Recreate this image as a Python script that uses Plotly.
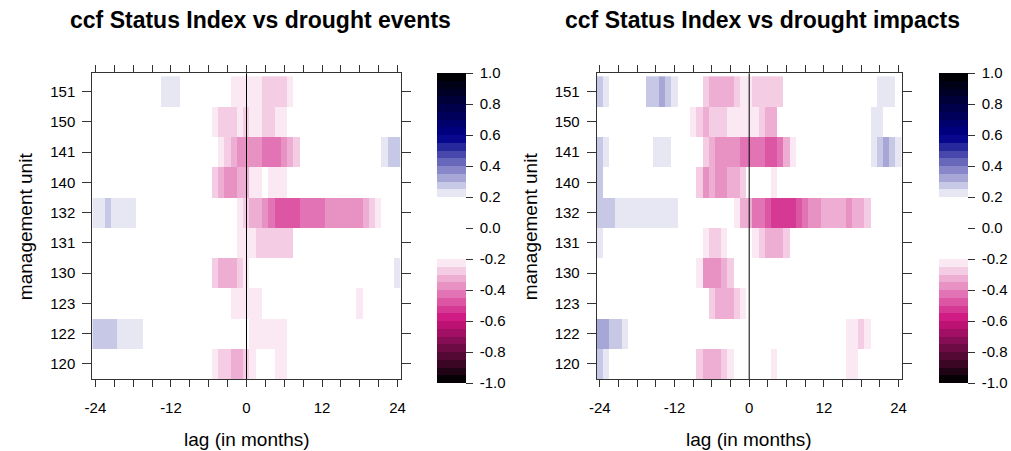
import plotly.graph_objects as go

# ---------------- data ----------------
lags = list(range(-24, 25))
units = ["120", "122", "123", "130", "131", "132", "140", "141", "150", "151"]
xtick_vals = list(range(-24, 25, 3))
xtick_text = ["-24", "", "", "", "-12", "", "", "", "0", "", "", "", "12", "", "", "", "24"]
cbar_ticks = [-1.0, -0.8, -0.6, -0.4, -0.2, 0.0, 0.2, 0.4, 0.6, 0.8, 1.0]
cbar_text = ["-1.0", "-0.8", "-0.6", "-0.4", "-0.2", "0.0", "0.2", "0.4", "0.6", "0.8", "1.0"]

# ccf values, drought events (lags -24..24)
ev_151 = [0, 0, 0, 0, 0, 0, 0, 0, 0, 0, 0, 0.22,
          0.22, 0.22, 0, 0, 0, 0, 0, 0, 0, 0, -0.22, -0.22,
          -0.22, -0.22, -0.22, -0.27, -0.27, -0.27, -0.27, -0.22, 0, 0, 0, 0,
          0, 0, 0, 0, 0, 0, 0, 0, 0, 0, 0, 0, 0]
ev_150 = [0, 0, 0, 0, 0, 0, 0, 0, 0, 0, 0, 0,
          0, 0, 0, 0, 0, 0, 0, -0.22, -0.27, -0.27, -0.27, -0.22,
          -0.27, -0.22, -0.22, -0.27, -0.27, -0.22, -0.22, 0, 0, 0, 0, 0,
          0, 0, 0, 0, 0, 0, 0, 0, 0, 0, 0, 0, 0]
ev_141 = [0, 0, 0, 0, 0, 0, 0, 0, 0, 0, 0, 0,
          0, 0, 0, 0, 0, 0, 0, 0, -0.22, -0.27, -0.32, -0.37,
          -0.37, -0.37, -0.37, -0.42, -0.42, -0.42, -0.37, -0.32, -0.27, 0, 0, 0,
          0, 0, 0, 0, 0, 0, 0, 0, 0, 0, 0.22, 0.27, 0.27]
ev_140 = [0, 0, 0, 0, 0, 0, 0, 0, 0, 0, 0, 0,
          0, 0, 0, 0, 0, 0, 0, -0.27, -0.32, -0.37, -0.37, -0.32,
          -0.32, -0.22, -0.22, 0, -0.22, -0.22, -0.22, 0, 0, 0, 0, 0,
          0, 0, 0, 0, 0, 0, 0, 0, 0, 0, 0, 0, 0]
ev_132 = [0.22, 0.22, 0.27, 0.22, 0.22, 0.22, 0.22, 0, 0, 0, 0, 0,
          0, 0, 0, 0, 0, 0, 0, 0, 0, 0, 0, -0.22,
          -0.27, -0.32, -0.32, -0.37, -0.42, -0.47, -0.47, -0.47, -0.47, -0.42, -0.42, -0.42,
          -0.42, -0.37, -0.37, -0.37, -0.37, -0.37, -0.37, -0.32, -0.27, -0.22, 0, 0, 0]
ev_131 = [0, 0, 0, 0, 0, 0, 0, 0, 0, 0, 0, 0,
          0, 0, 0, 0, 0, 0, 0, 0, 0, 0, 0, -0.22,
          -0.22, -0.22, -0.27, -0.27, -0.27, -0.27, -0.27, -0.27, 0, 0, 0, 0,
          0, 0, 0, 0, 0, 0, 0, 0, 0, 0, 0, 0, 0]
ev_130 = [0, 0, 0, 0, 0, 0, 0, 0, 0, 0, 0, 0,
          0, 0, 0, 0, 0, 0, 0, -0.27, -0.32, -0.32, -0.32, -0.27,
          -0.22, 0, 0, 0, 0, 0, 0, 0, 0, 0, 0, 0,
          0, 0, 0, 0, 0, 0, 0, 0, 0, 0, 0, 0, 0.22]
ev_123 = [0, 0, 0, 0, 0, 0, 0, 0, 0, 0, 0, 0,
          0, 0, 0, 0, 0, 0, 0, 0, 0, 0, -0.22, -0.22,
          -0.22, -0.22, -0.22, 0, 0, 0, 0, 0, 0, 0, 0, 0,
          0, 0, 0, 0, 0, 0, -0.22, 0, 0, 0, 0, 0, 0]
ev_122 = [0.27, 0.27, 0.27, 0.27, 0.22, 0.22, 0.22, 0.22, 0, 0, 0, 0,
          0, 0, 0, 0, 0, 0, 0, 0, 0, 0, 0, 0,
          0, -0.22, -0.22, -0.22, -0.22, -0.22, -0.22, 0, 0, 0, 0, 0,
          0, 0, 0, 0, 0, 0, 0, 0, 0, 0, 0, 0, 0]
ev_120 = [0, 0, 0, 0, 0, 0, 0, 0, 0, 0, 0, 0,
          0, 0, 0, 0, 0, 0, 0, -0.22, -0.27, -0.27, -0.32, -0.32,
          -0.27, -0.22, 0, 0, 0, -0.22, -0.22, 0, 0, 0, 0, 0,
          0, 0, 0, 0, 0, 0, 0, 0, 0, 0, 0, 0, 0]

# ccf values, drought impacts (lags -24..24)
im_151 = [0.27, 0.22, 0, 0, 0, 0, 0, 0, 0.27, 0.27, 0.32, 0.27,
          0.22, 0, 0, 0, 0, -0.27, -0.32, -0.32, -0.32, -0.32, -0.27, -0.22,
          -0.22, -0.27, -0.27, -0.27, -0.27, -0.27, 0, 0, 0, 0, 0, 0,
          0, 0, 0, 0, 0, 0, 0, 0, 0, 0.22, 0.22, 0.22, 0]
im_150 = [0, 0, 0, 0, 0, 0, 0, 0, 0, 0, 0, 0,
          0, 0, 0, -0.22, -0.27, -0.32, -0.27, -0.27, -0.27, -0.22, -0.22, -0.22,
          -0.22, -0.22, -0.27, -0.32, -0.32, 0, 0, 0, 0, 0, 0, 0,
          0, 0, 0, 0, 0, 0, 0, 0, 0.22, 0.22, 0, 0, 0]
im_141 = [0.27, 0.22, 0, 0, 0, 0, 0, 0, 0, 0.22, 0.22, 0.22,
          0, 0, 0, 0, 0, -0.27, -0.32, -0.37, -0.37, -0.37, -0.37, -0.42,
          -0.42, -0.42, -0.42, -0.47, -0.47, -0.42, -0.32, -0.22, 0, 0, 0, 0,
          0, 0, 0, 0, 0, 0, 0, 0, 0.22, 0.27, 0.32, 0.27, 0.22]
im_140 = [0.27, 0, 0, 0, 0, 0, 0, 0, 0, 0, 0, 0,
          0, 0, 0, 0, -0.27, -0.37, -0.32, -0.37, -0.37, -0.32, -0.32, -0.27,
          0, 0, 0, 0, -0.22, 0, 0, 0, 0, 0, 0, 0,
          0, 0, 0, 0, 0, 0, 0, 0, 0, 0, 0, 0, 0]
im_132 = [0.27, 0.27, 0.27, 0.22, 0.22, 0.22, 0.22, 0.22, 0.22, 0.22, 0.22, 0.22,
          0.22, 0, 0, 0, 0, 0, 0, 0, 0, 0, -0.22, -0.32,
          -0.32, -0.42, -0.42, -0.47, -0.52, -0.52, -0.52, -0.52, -0.47, -0.42, -0.37, -0.37,
          -0.32, -0.32, -0.32, -0.32, -0.37, -0.32, -0.32, -0.27, 0, 0, 0, 0, 0]
im_131 = [0.22, 0, 0, 0, 0, 0, 0, 0, 0, 0, 0, 0,
          0, 0, 0, 0, 0, -0.22, -0.27, -0.27, -0.22, 0, 0, 0,
          0, -0.22, -0.27, -0.32, -0.32, -0.32, -0.27, 0, 0, 0, 0, 0,
          0, 0, 0, 0, 0, 0, 0, 0, 0, 0, 0, 0, 0]
im_130 = [0, 0, 0, 0, 0, 0, 0, 0, 0, 0, 0, 0,
          0, 0, 0, 0, -0.22, -0.37, -0.37, -0.37, -0.32, -0.27, 0, 0,
          0, 0, 0, 0, 0, 0, 0, 0, 0, 0, 0, 0,
          0, 0, 0, 0, 0, 0, 0, 0, 0, 0, 0, 0, 0]
im_123 = [0, 0, 0, 0, 0, 0, 0, 0, 0, 0, 0, 0,
          0, 0, 0, 0, 0, 0, -0.27, -0.32, -0.32, -0.32, -0.27, -0.22,
          0, 0, 0, 0, 0, 0, 0, 0, 0, 0, 0, 0,
          0, 0, 0, 0, 0, 0, 0, 0, 0, 0, 0, 0, 0]
im_122 = [0.32, 0.32, 0.27, 0.27, 0.22, 0, 0, 0, 0, 0, 0, 0,
          0, 0, 0, 0, 0, 0, 0, 0, 0, 0, 0, 0,
          0, 0, 0, 0, 0, 0, 0, 0, 0, 0, 0, 0,
          0, 0, 0, 0, -0.22, -0.22, -0.27, -0.22, 0, 0, 0, 0, 0]
im_120 = [0.27, 0.22, 0, 0, 0, 0, 0, 0, 0, 0, 0, 0,
          0, 0, 0, 0, -0.27, -0.32, -0.32, -0.32, -0.27, -0.22, 0, 0,
          0, 0, 0, 0, -0.22, 0, 0, 0, 0, 0, 0, 0,
          0, 0, 0, 0, -0.22, -0.22, 0, 0, 0, 0, 0, 0, 0]

events = [ev_120, ev_122, ev_123, ev_130, ev_131, ev_132, ev_140, ev_141, ev_150, ev_151]
impacts = [im_120, im_122, im_123, im_130, im_131, im_132, im_140, im_141, im_150, im_151]
for r in events + impacts:
    assert len(r) == len(lags), len(r)

# ---------------- styling ----------------
W, H = 1011, 451
FONT = "Liberation Sans, Arial, sans-serif"
AXCOL = "#333333"


def px(x):
    return x / W


def py(y):
    return 1 - y / H


def mix(c1, c2, t):
    return tuple(round(a + (b - a) * t) for a, b in zip(c1, c2))


BLACK, PINK, WHITE, NAVY = (0, 0, 0), (206, 20, 128), (255, 255, 255), (0, 0, 139)


def band_color(lo, hi):
    if hi <= -0.2 + 1e-9:
        v = lo + 0.0125
        if v >= -0.6:
            c = mix(WHITE, PINK, (-0.2 - v) / 0.4)
        else:
            c = mix(PINK, BLACK, (-0.6 - v) / 0.4)
    elif lo >= 0.2 - 1e-9:
        v = hi - 0.0125
        if v <= 0.6:
            c = mix(WHITE, NAVY, (v - 0.2) / 0.4)
        else:
            c = mix(NAVY, BLACK, (v - 0.6) / 0.4)
    else:
        c = WHITE
    return "rgb(%d,%d,%d)" % c


colorscale = []
for k in range(40):
    lo = -1 + 0.05 * k
    col = band_color(lo, lo + 0.05)
    colorscale.append([k / 40, col])
    colorscale.append([(k + 1) / 40, col])

panel_top, panel_bot = 73.3, 379.0
cb_top, cb_bot = 73.3, 383.0
panels = [
    dict(z=events, x0=92.3, x1=400.7, cbx=437.3, title="ccf Status Index vs drought events", tx=260.5, ytx=25),
    dict(z=impacts, x0=596.7, x1=901.7, cbx=939.3, title="ccf Status Index vs drought impacts", tx=762, ytx=530),
]

fig = go.Figure()
annotations = []
shapes = []
for i, p in enumerate(panels):
    xa = "x" if i == 0 else "x2"
    ya = "y" if i == 0 else "y2"
    fig.add_trace(go.Heatmap(
        z=p["z"], x=lags, y=units, xaxis=xa, yaxis=ya,
        zmin=-1, zmax=1, colorscale=colorscale,
        hovertemplate="lag %{x}<br>unit %{y}<br>ccf %{z}<extra></extra>",
        colorbar=dict(
            x=px(p["cbx"]), xanchor="left", xpad=0,
            y=py((cb_top + cb_bot) / 2), yanchor="middle", ypad=0,
            len=cb_bot - cb_top, lenmode="pixels",
            thickness=29, thicknessmode="pixels",
            outlinewidth=0,
            tickmode="array", tickvals=cbar_ticks,
            ticktext=["\u00a0" + t for t in cbar_text],
            ticks="outside", ticklen=7, tickwidth=1, tickcolor=AXCOL,
            tickfont=dict(family=FONT, size=15, color="black"),
        ),
    ))
    axx = dict(
        domain=[px(p["x0"]), px(p["x1"])], range=[-24.5, 24.5],
        tickmode="array", tickvals=xtick_vals, ticktext=xtick_text,
        ticks="outside", ticklen=7, tickwidth=1, tickcolor=AXCOL,
        showline=True, linecolor=AXCOL, linewidth=1, mirror="ticks",
        showgrid=False, zeroline=False, anchor=ya,
        tickfont=dict(family=FONT, size=15, color="black"),
        ticklabelstandoff=8,
    )
    axy = dict(
        domain=[py(panel_bot), py(panel_top)], type="category",
        range=[-0.5, 9.6],
        ticks="outside", ticklen=9, tickwidth=1, tickcolor=AXCOL,
        showline=True, linecolor=AXCOL, linewidth=1, mirror="ticks",
        showgrid=False, zeroline=False, anchor=xa,
        tickfont=dict(family=FONT, size=15, color="black"),
        ticklabelstandoff=4,
    )
    if i == 0:
        fig.update_layout(xaxis=axx, yaxis=axy)
    else:
        fig.update_layout(xaxis2=axx, yaxis2=axy)
    shapes.append(dict(type="line", xref=xa, yref=ya + " domain", x0=0, x1=0, y0=0, y1=1,
                       line=dict(color="black", width=1)))
    annotations.append(dict(text="<b>%s</b>" % p["title"], x=px(p["tx"]), y=py(20),
                            xref="paper", yref="paper", xanchor="center", yanchor="middle",
                            showarrow=False, font=dict(family=FONT, size=23, color="black")))
    annotations.append(dict(text="lag (in months)", x=px((p["x0"] + p["x1"]) / 2), y=py(439),
                            xref="paper", yref="paper", xanchor="center", yanchor="middle",
                            showarrow=False, font=dict(family=FONT, size=19, color="black")))
    annotations.append(dict(text="management unit", x=px(p["ytx"]), y=py((panel_top + panel_bot) / 2),
                            xref="paper", yref="paper", xanchor="center", yanchor="middle",
                            textangle=-90, showarrow=False,
                            font=dict(family=FONT, size=19, color="black")))

fig.update_layout(
    width=W, height=H, autosize=False,
    margin=dict(l=0, r=0, t=0, b=0, autoexpand=False),
    paper_bgcolor="white", plot_bgcolor="white",
    annotations=annotations, shapes=shapes,
    font=dict(family=FONT, color="black"),
)

fig.write_html(
    "out.html",
    config={"displayModeBar": False},
    post_script="document.body.style.margin='0px';document.body.style.overflow='hidden';",
)
